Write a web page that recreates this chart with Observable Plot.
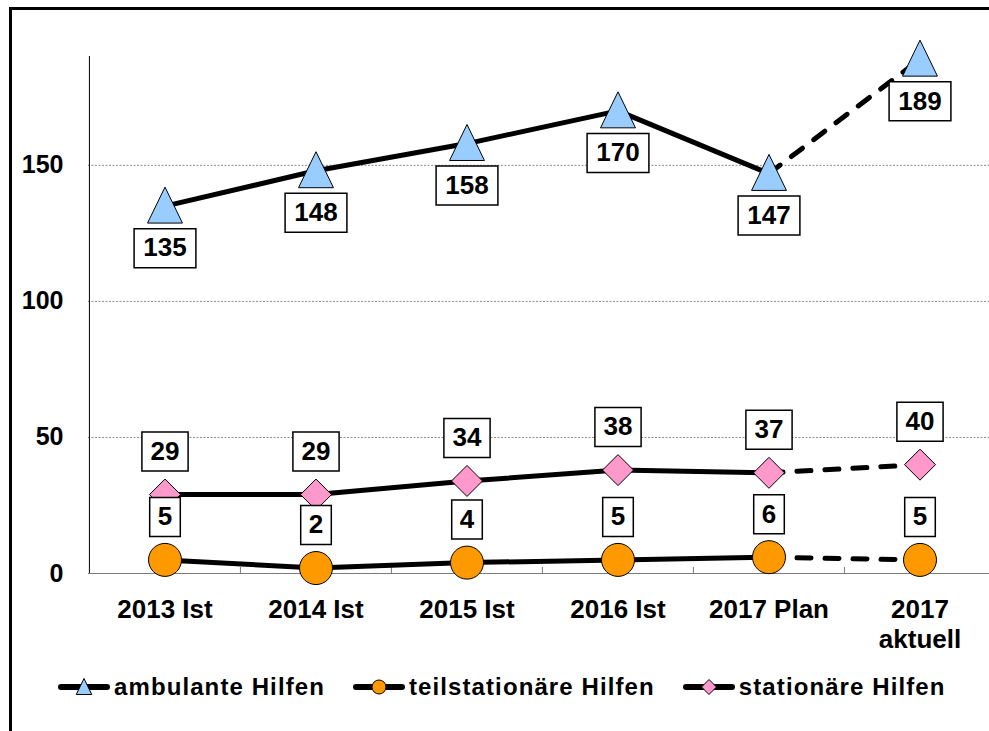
<!DOCTYPE html>
<html><head><meta charset="utf-8">
<script src="https://cdn.jsdelivr.net/npm/d3@7"></script>
<script src="https://cdn.jsdelivr.net/npm/@observablehq/plot@0.6"></script>
<style>
html,body{margin:0;padding:0;background:#fff;}
#wrap{position:relative;width:989px;height:731px;overflow:hidden;font-family:"Liberation Sans",Arial,sans-serif;background:#fff;}
#frame{position:absolute;left:9px;top:7px;width:1000px;height:800px;border-left:3px solid #000;border-top:3px solid #000;box-sizing:border-box;pointer-events:none;}
#chart{position:absolute;left:0;top:0;}
#legend{position:absolute;left:58px;top:670px;height:34px;display:flex;align-items:center;font-weight:bold;font-size:24px;letter-spacing:1.1px;white-space:nowrap;color:#000;}
.item{display:flex;align-items:center;margin-right:28px;}
.item svg{margin-right:4px;flex:none;}
</style></head><body>
<div id="wrap"><div id="chart"></div><div id="legend"></div><div id="frame"></div></div>
<script>
// ---- data ----
const categories = ["2013 Ist","2014 Ist","2015 Ist","2016 Ist","2017 Plan","2017 aktuell"];
const xTickLabels = ["2013 Ist","2014 Ist","2015 Ist","2016 Ist","2017 Plan","2017\naktuell"];
const ambulante = [135,148,158,170,147,189];
const teilstationaer = [5,2,4,5,6,5];
const stationaer = [29,29,34,38,37,40];
const seriesNames = ["ambulante Hilfen","teilstationäre Hilfen","stationäre Hilfen"];
const yTicks = [0,50,100,150];
const yMax = 190;

// ---- symbols ----
const triangleSym = {draw(ctx, size){ const r = Math.sqrt(size/Math.PI);
  ctx.moveTo(0,-1.06*r); ctx.lineTo(0.97*r,0.94*r); ctx.lineTo(-0.97*r,0.94*r); ctx.closePath(); }};
const diamondSym = {draw(ctx, size){ const r = Math.sqrt(size/Math.PI);
  ctx.moveTo(0,-r); ctx.lineTo(r,0); ctx.lineTo(0,r); ctx.lineTo(-r,0); ctx.closePath(); }};
const circleSym = {draw(ctx, size){ const r = Math.sqrt(size/Math.PI);
  ctx.moveTo(r,0); ctx.arc(0,0,r,0,2*Math.PI); }};
const boxSym = (hw, hh) => ({draw(ctx){ ctx.rect(-hw,-hh,2*hw,2*hh); }});

const series = [
  {name: seriesNames[0], values: ambulante, fill: "#99ccff", symbol: triangleSym, r: 18, legendR: 8, labelDy: 42},
  {name: seriesNames[1], values: teilstationaer, fill: "#ff9900", symbol: circleSym, r: 16.5, legendR: 7, labelDy: -43},
  {name: seriesNames[2], values: stationaer, fill: "#ff99cc", symbol: diamondSym, r: 15.5, legendR: 7.5, labelDy: -43}
];
series.forEach(s => { s.rows = categories.map((c, i) => ({cat: c, value: s.values[i], series: s.name})); });
const solidRows = series.flatMap(s => s.rows.slice(0, 5));
const dashedRows = series.flatMap(s => s.rows.slice(4));

// ---- layout ----
const W = 989, H = 650, mL = 88, mR = -6, mT = 56, mB = 77;
const step = (W - mL - mR) / categories.length;
const font = "'Liberation Sans', Arial, sans-serif";

const marks = [
  Plot.ruleY(yTicks.slice(1), {stroke: "#8a8a8a", strokeDasharray: "2,1.5", strokeWidth: 1}),
  Plot.ruleY([0], {stroke: "#7a7a7a", strokeWidth: 1}),
  Plot.ruleX(categories.slice(1), {x: d => d, dx: -step/2, y1: () => 0, y2: () => 0, insetTop: -6, stroke: "#7a7a7a"}),
  Plot.ruleX([categories[0]], {x: d => d, dx: -step/2, y1: () => 0, y2: () => yMax, stroke: "#000"}),
  Plot.text(yTicks, {y: d => d, frameAnchor: "left", dx: -25, textAnchor: "end", text: d => String(d), fontSize: 25, fontWeight: "bold", fill: "#000"}),
  Plot.text(categories, {x: d => d, y: () => 0, dy: 24, lineAnchor: "top", text: (d, i) => xTickLabels[i], fontSize: 26, fontWeight: "bold", lineHeight: 1.13, fill: "#000"}),
  Plot.line(solidRows, {x: "cat", y: "value", z: "series", stroke: "#000", strokeWidth: 5, strokeLinejoin: "round"}),
  Plot.line(dashedRows, {x: "cat", y: "value", z: "series", stroke: "#000", strokeWidth: 5, strokeDasharray: "14,14", strokeLinecap: "round"})
];
series.forEach(s => {
  marks.push(Plot.dot(s.rows, {x: "cat", y: "value", r: s.r, symbol: s.symbol, fill: s.fill, stroke: "#000", strokeWidth: 1}));
});
series.forEach(s => {
  const digits = d3.max(s.values, v => String(v).length);
  const hw = 7.5 + 7.8 * digits;
  marks.push(Plot.dot(s.rows, {x: "cat", y: "value", dy: s.labelDy, r: 3, symbol: boxSym(hw, 19.5), fill: "#fff", stroke: "#000", strokeWidth: 1.5}));
  marks.push(Plot.text(s.rows, {x: "cat", y: "value", dy: s.labelDy, text: d => String(d.value), fontSize: 26, fontWeight: "bold", fill: "#000"}));
});

const chart = Plot.plot({
  width: W, height: H,
  marginLeft: mL, marginRight: mR, marginTop: mT, marginBottom: mB,
  x: {type: "band", domain: categories, padding: 0, axis: null},
  y: {domain: [0, yMax], axis: null},
  style: {fontFamily: font, background: "transparent", overflow: "visible"},
  marks
});
document.getElementById("chart").appendChild(chart);

// ---- legend ----
const legend = d3.select("#legend");
series.forEach(s => {
  const item = legend.append("div").attr("class", "item");
  const svg = item.append("svg").attr("width", 52).attr("height", 22);
  svg.append("line").attr("x1", 3).attr("x2", 49).attr("y1", 11).attr("y2", 11)
    .attr("stroke", "#000").attr("stroke-width", 6).attr("stroke-linecap", "round");
  const p = d3.path();
  s.symbol.draw(p, Math.PI * s.legendR * s.legendR);
  svg.append("path").attr("d", p.toString()).attr("transform", "translate(26,11)")
    .attr("fill", s.fill).attr("stroke", "#000").attr("stroke-width", 1);
  item.append("span").text(s.name);
});
</script>
</body></html>
